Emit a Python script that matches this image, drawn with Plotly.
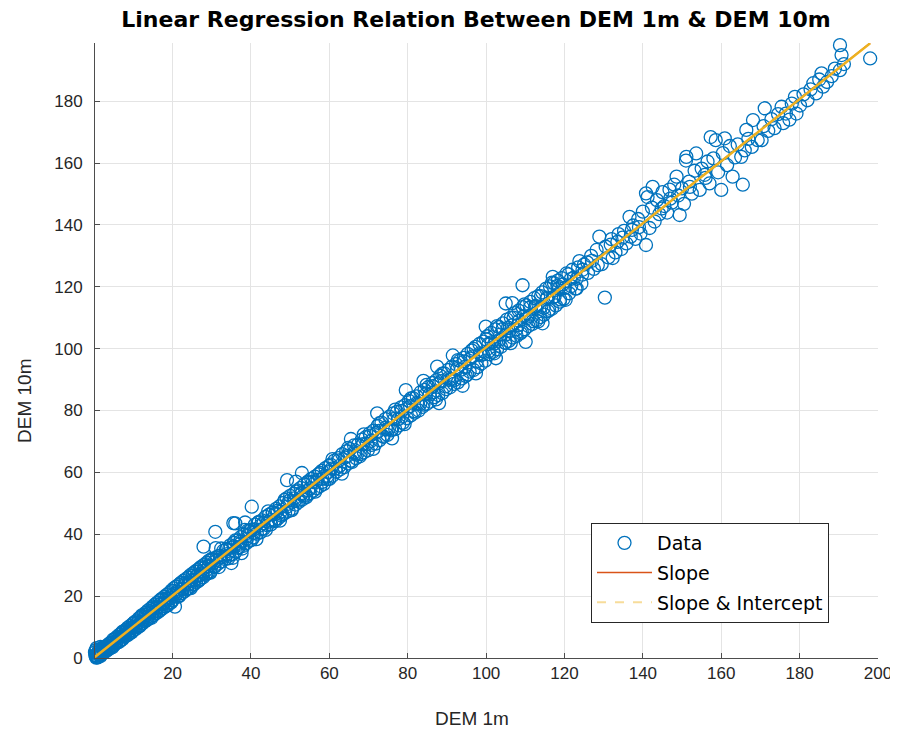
import numpy as np
import plotly.graph_objects as go

# ---------------- data ----------------
origin_x = [0.2, 0.6, 0.9, 1.3, 0.4, 1.6]
origin_y = [1.8, 3.2, 0.2, 2.8, 2.5, 3.6]

low_x = [0.3,0.5,0.8,1.0,1.2,1.5,1.7,2.0,2.2,2.5,
         2.8,3.0,3.3,3.5,3.8,4.0,4.3,4.6,4.8,5.1,
         5.4,5.6,5.9,6.2,6.4,6.7,7.0,7.3,7.5,7.8,
         8.1,8.4,8.6,8.9,9.2,9.5,9.8,10.0,10.3,10.6,
         10.9,11.2,11.4,11.7,12.0,12.3,12.6,12.9,13.1,13.4,
         13.7,14.0,14.3,14.6,14.9,15.2,15.5,15.8,16.1,16.4,
         16.7,17.0,17.3,17.6,17.9,18.2,18.5,18.8,19.1,19.4,
         19.7,20.0,20.3,20.6,20.9,21.2,21.5,21.8,22.1,22.4,
         22.7,23.0,23.3,23.6,23.9,24.2,24.5,24.8,25.1,25.4,
         25.7,26.0,26.3,26.6,26.9,27.2,27.5,27.8,28.1,28.4,
         28.7,29.0,29.3,29.6,29.9]
low_y = [0.9,0.1,1.6,0.4,2.1,0.9,2.6,1.3,3.0,1.8,
         3.4,2.2,4.1,2.7,4.6,3.1,5.0,3.9,5.9,4.2,
         6.3,4.8,6.9,5.1,7.5,5.6,8.0,6.2,8.6,6.9,
         9.2,7.3,9.8,7.8,10.4,8.3,11.0,9.1,11.6,9.4,
         12.1,10.0,12.8,10.6,13.3,11.2,14.0,11.8,14.6,12.2,
         15.3,12.8,15.9,13.4,16.6,13.9,17.3,14.5,17.9,15.0,
         18.6,15.6,19.2,16.2,19.8,16.7,20.4,17.1,21.0,17.9,
         21.8,18.6,22.5,16.6,23.1,19.8,23.6,20.3,24.2,21.0,
         24.9,21.5,25.4,22.2,26.0,22.6,26.7,23.3,27.3,23.8,
         27.9,24.4,28.4,25.0,29.0,25.6,29.6,26.1,30.2,26.9,
         30.8,27.4,31.5,28.0,31.9]

low2_x = [0.4,1.1,1.9,2.6,3.4,4.1,4.9,5.7,6.5,7.2,8.0,8.8,9.6,10.4,11.1,11.9,12.7,13.5,14.2,15.0,
          15.7,16.5,17.2,18.0,18.7,19.5,20.2,21.0,21.7,22.5,23.2,24.0,24.7,25.5,26.2,27.0,27.7,28.5,29.2,30.0]
low2_y = [0.6,1.0,2.1,2.4,3.6,4.0,5.1,5.5,6.8,7.0,8.3,8.6,9.9,10.2,11.5,11.7,13.1,13.3,14.6,14.8,
          16.1,16.3,17.6,17.8,19.1,19.3,20.6,20.8,22.1,22.3,23.6,23.8,25.1,25.3,26.6,26.8,28.1,28.3,29.6,29.8]

low3_x = [0.15,0.65,1.15,1.65,2.15,2.65,3.15,3.65,4.15,4.65,
          5.15,5.65,6.15,6.65,7.15,7.65,8.15,8.65,9.15,9.65,
          10.15,10.65,11.15,11.65,12.15,12.65,13.15,13.65,14.15,14.65,
          15.15,15.65,16.15,16.65,17.15,17.65,18.15,18.65,19.15,19.65,
          20.15,20.65,21.15,21.65,22.15,22.65,23.15,23.65,24.15,24.65,
          25.15,25.65,26.15,26.65,27.15,27.65,28.15,28.65,29.15,29.65]
low3_y = [1.0,0.3,1.3,0.7,3.4,2.5,3.7,2.9,4.5,3.5,
          6.0,5.3,6.3,5.7,8.4,7.5,8.7,7.9,9.5,8.5,
          11.3,10.1,11.4,10.4,13.8,12.5,13.9,12.6,14.6,13.0,
          16.3,15.1,16.4,15.4,18.8,17.5,18.9,17.6,19.6,18.0,
          21.6,20.0,21.5,20.0,24.3,22.4,24.2,22.3,24.7,22.6,
          26.6,25.0,26.5,25.0,29.3,27.4,29.2,27.3,29.7,27.6]

low_out_x = [27.9, 30.9, 35.0, 36.0, 37.6, 40.2, 35.5]
low_out_y = [36.0, 40.8, 30.7, 43.5, 33.9, 48.9, 43.6]

mid_x = [30.3,30.7,31.2,31.6,32.0,32.5,32.9,33.4,33.8,34.3,
         34.7,35.2,35.6,36.1,36.5,37.0,37.4,37.9,38.3,38.8,
         39.2,39.7,40.1,40.6,41.0,41.5,41.9,42.4,42.8,43.3,
         43.7,44.2,44.6,45.1,45.5,46.0,46.4,46.9,47.3,47.8,
         48.2,48.7,49.1,49.6,50.0,50.5,50.9,51.4,51.8,52.3,
         52.7,53.2,53.6,54.1,54.5,55.0,55.4,55.9,56.3,56.8,
         57.2,57.7,58.1,58.6,59.0,59.5,59.9]
mid_y = [31.8,29.4,32.6,30.5,33.1,31.2,34.6,32.0,35.3,33.1,
         36.4,33.5,37.2,34.4,38.0,35.8,39.1,36.2,40.0,37.1,
         41.2,37.9,41.5,39.0,43.1,40.2,43.8,40.6,44.5,41.8,
         45.6,42.9,46.3,43.2,47.0,44.6,48.2,45.1,49.0,46.0,
         50.1,46.9,51.6,47.5,52.4,48.3,53.1,49.6,54.2,50.5,
         55.0,51.3,56.1,52.0,56.8,53.2,57.9,54.1,58.6,54.9,
         59.4,55.6,60.5,56.3,61.4,57.8,62.1]

mid2_x = [30.5,32.2,33.9,35.7,37.3,39.0,40.8,42.5,44.3,46.1,47.6,49.4,51.1,52.9,54.6,56.4,58.2,59.7]
mid2_y = [30.9,32.5,33.6,36.1,37.0,39.4,40.5,42.9,44.0,46.5,47.3,49.8,50.7,53.3,54.2,56.8,57.9,60.1]

mid3_x = [30.0,30.6,31.2,31.8,32.4,33.0,33.6,34.2,34.8,35.4,
          36.0,36.6,37.2,37.8,38.4,39.0,39.6,40.2,40.8,41.4,
          42.0,42.6,43.2,43.8,44.4,45.0,45.6,46.2,46.8,47.4,
          48.0,48.6,49.2,49.8,50.4,51.0,51.6,52.2,52.8,53.4,
          54.0,54.6,55.2,55.8,56.4,57.0,57.6,58.2,58.8,59.4]
mid3_y = [32.0,29.6,31.6,29.4,35.4,32.6,35.0,32.2,35.6,32.4,
          38.0,35.6,37.6,35.4,41.4,38.6,41.0,38.2,41.6,38.4,
          44.0,41.6,43.6,41.4,47.4,44.6,47.0,44.2,47.6,44.4,
          46.5,51.1,48.9,50.9,47.8,51.6,53.8,50.9,52.9,52.6,
          52.5,57.1,54.9,56.9,53.8,57.6,59.8,56.9,58.9,58.6]

mid_out_x = [49.2, 53.0, 51.5, 38.5, 31.0]
mid_out_y = [57.5, 59.8, 57.0, 43.8, 35.5]

um_x = [60.3,60.8,61.3,61.8,62.3,62.8,63.3,63.8,64.3,64.8,
        65.3,65.8,66.3,66.8,67.3,67.8,68.3,68.8,69.3,69.8,
        70.3,70.8,71.3,71.8,72.3,72.8,73.3,73.8,74.3,74.8,
        75.3,75.8,76.3,76.8,77.3,77.8,78.3,78.8,79.3,79.8,
        80.3,80.8,81.3,81.8,82.3,82.8,83.3,83.8,84.3,84.8,
        85.3,85.8,86.3,86.8,87.3,87.8,88.3,88.8,89.3,89.8,
        90.3,90.8,91.3,91.8,92.3,92.8,93.3,93.8,94.3,94.8,
        95.3,95.8,96.3,96.8,97.3,97.8,98.3,98.8,99.3,99.8]
um_y = [62.5,58.9,63.8,60.2,64.6,61.0,65.9,61.7,66.8,62.9,
        67.5,63.4,68.7,64.6,69.0,65.2,70.6,66.5,71.4,67.1,
        72.6,68.9,73.5,69.3,75.0,70.4,76.1,71.5,77.2,72.1,
        78.0,73.6,79.1,74.0,79.6,75.2,81.0,76.1,81.7,77.5,
        83.1,78.4,84.0,79.3,84.6,80.0,85.9,81.2,86.7,82.1,
        87.6,82.9,88.9,84.3,89.8,85.0,91.2,85.6,92.0,86.9,
        93.1,87.5,94.2,88.6,95.0,89.1,96.1,90.4,97.0,91.2,
        98.3,92.6,99.4,93.1,100.6,94.0,101.5,95.2,102.3,96.1]

um2_x = [60.6,62.6,64.6,66.6,68.6,70.6,72.6,74.6,76.6,78.6,80.6,82.6,84.6,86.6,88.6,90.6,92.6,94.6,96.6,98.6]
um2_y = [61.2,62.1,65.3,66.0,69.1,70.2,73.4,73.9,77.3,78.0,81.4,82.1,85.2,85.9,89.5,89.9,93.4,94.1,97.5,98.0]

um3_x = [60.0,60.8,61.6,62.4,63.2,64.0,64.8,65.6,66.4,67.2,
         68.0,68.8,69.6,70.4,71.2,72.0,72.8,73.6,74.4,75.2,
         76.0,76.8,77.6,78.4,79.2,80.0,80.8,81.6,82.4,83.2,
         84.0,84.8,85.6,86.4,87.2,88.0,88.8,89.6,90.4,91.2,
         92.0,92.8,93.6,94.4,95.2,96.0,96.8,97.6,98.4,99.2]
um3_y = [57.9,64.3,61.2,63.9,59.6,64.8,67.9,63.8,66.5,66.1,
         65.9,72.3,69.2,71.9,67.6,72.8,75.9,71.8,74.5,74.1,
         73.9,80.3,77.2,79.9,75.6,80.8,83.9,79.8,82.5,82.1,
         81.9,88.3,85.2,87.9,83.6,88.8,91.9,87.8,90.5,90.1,
         89.9,96.3,93.2,95.9,91.6,96.8,99.9,95.8,98.5,98.1]

um_out_x = [72.2, 79.5, 87.5, 88.0, 97.4, 84.0, 91.5, 94.0, 65.5, 76.0]
um_out_y = [79.1, 86.6, 94.2, 82.4, 92.0, 89.6, 97.8, 88.0, 70.8, 71.0]

hi_x = [100.3,100.8,101.3,101.8,102.3,102.8,103.3,103.8,104.3,104.8,
        105.3,105.8,106.3,106.8,107.3,107.8,108.3,108.8,109.3,109.8,
        110.3,110.8,111.3,111.8,112.3,112.8,113.3,113.8,114.3,114.8,
        115.3,115.8,116.3,116.8,117.3,117.8,118.3,118.8,119.3,119.8,
        120.5,121.2,122.0,122.8,123.5,124.3,125.0]
hi_y = [104.0,98.2,105.1,99.0,106.2,99.8,107.0,100.6,108.2,101.9,
        109.4,102.5,110.0,103.6,111.5,104.1,112.3,105.0,113.4,106.2,
        114.0,107.3,115.1,108.0,116.3,109.1,117.0,110.2,118.2,111.0,
        119.4,112.1,120.1,112.9,121.2,114.0,122.0,115.2,122.8,116.1,
        124.3,117.9,125.5,119.4,126.3,121.0,127.2]

hi2_x = [100.6,102.1,103.6,105.1,106.6,108.1,109.6,111.1,112.6,114.1,115.6,117.1,118.6,120.1,121.6,123.1,124.6]
hi2_y = [101.5,101.6,104.5,104.6,107.5,107.6,110.5,110.6,113.5,113.6,116.5,116.6,119.5,119.6,122.5,122.6,125.5]

hi3_x = [100.0,100.7,101.4,102.1,102.8,103.5,104.2,104.9,105.6,106.3,
         107.0,107.7,108.4,109.1,109.8,110.5,111.2,111.9,112.6,113.3,
         114.0,114.7,115.4,116.1,116.8,117.5,118.2,118.9,119.6,120.3,
         121.0,121.7,122.4,123.1,123.8,124.5]
hi3_y = [103.0,99.2,102.0,98.5,107.3,102.9,106.3,101.9,106.8,101.8,
         110.0,106.2,109.0,105.5,114.3,109.9,113.3,108.9,113.8,108.8,
         117.0,113.2,116.0,112.5,121.3,116.9,120.3,115.9,120.8,115.8,
         124.0,120.2,123.0,119.5,128.3,123.9]

hi_out_x = [110.1, 114.4, 109.3, 117.0, 105.0, 102.5, 106.7, 99.9]
hi_out_y = [102.2, 108.2, 120.5, 123.2, 114.6, 96.9, 114.7, 107.1]

top_x = [126.0,126.8,127.5,128.2,128.9,130.3,129.5,130.5,131.2,132.3,
         132.0,133.0,133.8,134.5,135.2,135.8,136.6,136.9,137.5,138.1,
         138.8,139.4,140.0,140.8,140.8,141.2,141.7,142.5,142.3,143.0,
         143.6,144.2,145.0,145.5,146.2,146.8,147.4,148.0,148.6,149.4,
         149.0,150.0,150.5,151.1,151.0,151.8,152.5,153.2,153.6,154.5,
         155.0,155.8,156.5,157.3,157.0,158.0,158.6,159.2,160.0,160.4,
         160.9,161.5,162.2,162.9,163.5,164.2,165.1,165.5,166.4,166.0,
         166.9,168.1,167.8,169.3,170.3,170.8,171.1,172.0,172.8,173.6,
         174.5,175.4,175.8,176.5,177.4,178.0,178.8,179.2,180.1,181.0,
         182.0,182.8,183.5,184.2,185.0,185.6,186.0,187.0,188.2,189.0,
         190.3,190.7,190.3,191.3,198.0]
top_y = [124.5,130.0,125.8,131.9,136.2,116.5,127.3,133.0,129.5,129.3,
         135.4,131.1,137.0,132.2,138.1,134.0,142.6,136.2,139.8,135.5,
         141.9,137.2,144.3,150.2,133.5,149.0,139.0,152.3,145.6,141.1,
         148.0,143.5,150.6,146.1,144.0,151.4,147.2,153.0,155.6,143.2,
         149.5,151.8,146.8,162.0,160.8,154.0,150.1,157.5,163.1,151.3,
         158.2,156.2,160.5,168.4,153.4,161.5,167.4,157.0,151.3,163.2,
         168.0,159.3,165.5,155.6,161.8,166.0,162.0,153.0,170.7,164.1,
         167.8,173.9,165.2,167.4,167.4,171.9,177.7,170.4,174.2,171.3,
         175.8,178.2,172.9,176.0,174.0,179.2,181.4,176.0,178.6,182.2,
         180.3,183.8,185.8,182.5,187.0,189.0,184.7,186.2,188.1,190.5,
         190.0,194.9,198.1,192.0,193.8]

top2_x = [125.8,127.0,128.5,131.8,133.5,134.8,137.2,139.0,144.8,147.0,152.0,156.0]
top2_y = [127.9,128.4,127.0,133.6,134.5,135.9,138.4,139.3,145.3,148.5,152.3,155.2]

x_ticks = [20, 40, 60, 80, 100, 120, 140, 160, 180, 200]
y_ticks = [0, 20, 40, 60, 80, 100, 120, 140, 160, 180]

# ---------------- assemble ----------------
dem1m = np.array(origin_x + low_x + low2_x + low3_x + low_out_x + mid_x + mid2_x + mid3_x + mid_out_x +
                 um_x + um2_x + um3_x + um_out_x + hi_x + hi2_x + hi3_x + hi_out_x + top_x + top2_x, dtype=float)
dem10m = np.array(origin_y + low_y + low2_y + low3_y + low_out_y + mid_y + mid2_y + mid3_y + mid_out_y +
                  um_y + um2_y + um3_y + um_out_y + hi_y + hi2_y + hi3_y + hi_out_y + top_y + top2_y, dtype=float)

# regression fits
b_slope = float(np.sum(dem1m * dem10m) / np.sum(dem1m * dem1m))
b1, b0 = np.polyfit(dem1m, dem10m, 1)
xs = np.sort(dem1m)
fit_slope = b_slope * xs
fit_both = b0 + b1 * xs

BLUE = "#0072BD"
RED = "#D95319"
YEL = "#EDB120"
FONT = "Liberation Sans, Arial, sans-serif"
WIDE = "DejaVu Sans, sans-serif"
TXT = "#262626"

# page body has an 8px margin; figure size/margins compensate so the plot area
# lands at x 95..878, y 43..658 of the 898x740 window
FW, FH = 890, 732
ML, MR, MT, MB = 87, 20, 35, 82
PW, PH = FW - ML - MR, FH - MT - MB

fig = go.Figure()
fig.add_trace(go.Scatter(
    x=dem1m, y=dem10m, mode="markers", name="Data", legendgroup="a",
    cliponaxis=False,
    marker=dict(symbol="circle-open", size=13, color=BLUE, line=dict(width=1.3, color=BLUE)),
))
fig.add_trace(go.Scatter(
    x=xs, y=fit_slope, mode="lines", name="Slope", legendgroup="b",
    line=dict(color=RED, width=1.5),
))
fig.add_trace(go.Scatter(
    x=xs, y=fit_both, mode="lines", name="Slope & Intercept", showlegend=False,
    line=dict(color=YEL, width=2.5),
))
fig.add_trace(go.Scatter(
    x=[None], y=[None], mode="lines", name="Slope & Intercept", legendgroup="c",
    line=dict(color="rgba(237,177,32,0.45)", width=2, dash="dash"),
))

fig.update_layout(
    width=FW, height=FH,
    margin=dict(l=ML, r=MR, t=MT, b=MB),
    paper_bgcolor="white", plot_bgcolor="white",
    font=dict(family=FONT, color=TXT, size=17),
    title=dict(
        text="<b>Linear Regression Relation Between DEM 1m &amp; DEM 10m</b>",
        x=(476 - 8) / FW, xref="container", xanchor="center",
        y=1 - (19 - 8) / FH, yref="container", yanchor="middle",
        font=dict(family=WIDE, size=22, color="black"),
    ),
    xaxis=dict(
        range=[0.2, 200], tickvals=x_ticks, ticks="inside", ticklen=5, tickcolor="#4d4d4d",
        showline=True, linecolor="#4d4d4d", linewidth=1, mirror=False,
        showgrid=True, gridcolor="#e4e4e4", gridwidth=1, zeroline=False,
        tickfont=dict(size=17, color=TXT),
        automargin=False,
    ),
    yaxis=dict(
        range=[0, 198.8], tickvals=y_ticks, ticks="inside", ticklen=5, tickcolor="#4d4d4d",
        showline=True, linecolor="#4d4d4d", linewidth=1, mirror=False,
        showgrid=True, gridcolor="#e4e4e4", gridwidth=1, zeroline=False,
        tickfont=dict(size=17, color=TXT), ticklabelstandoff=8,
        automargin=False,
    ),
    legend=dict(
        x=(591 - 95) / 783, y=(658 - 523) / 615, xanchor="left", yanchor="top",
        bgcolor="white", bordercolor="#262626", borderwidth=1,
        font=dict(size=19, color="black", family=WIDE),
        itemwidth=55, tracegroupgap=2,
    ),
    annotations=[
        dict(text="DEM 1m", xref="paper", yref="paper",
             x=(472 - 95) / PW, y=(658 - 718) / PH, xanchor="center", yanchor="middle",
             showarrow=False, font=dict(family=FONT, size=19, color=TXT)),
        dict(text="DEM 10m", xref="paper", yref="paper", textangle=-90,
             x=(25 - 95) / PW, y=(658 - 401) / PH, xanchor="center", yanchor="middle",
             showarrow=False, font=dict(family=FONT, size=19, color=TXT)),
    ],
    showlegend=True,
)

fig.write_html("out.html", config={"displayModeBar": False})
